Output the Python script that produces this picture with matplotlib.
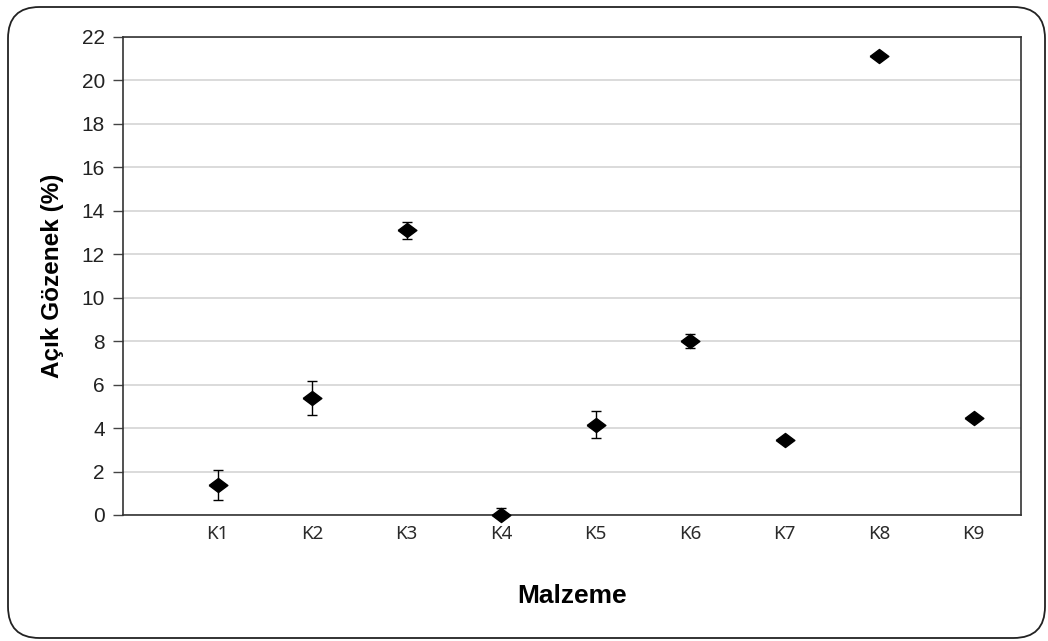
import matplotlib as mpl
import matplotlib.pyplot as plt
from matplotlib.patches import FancyBboxPatch

# open porosity per material, mean and std
materials = ['K1', 'K2', 'K3', 'K4', 'K5', 'K6', 'K7', 'K8', 'K9']
porosity = [1.38, 5.38, 13.1, 0.02, 4.15, 8.0, 3.45, 21.12, 4.45]
porosity_err = [0.7, 0.78, 0.4, 0.3, 0.62, 0.32, 0.1, 0.0, 0.0]
y_ticks = list(range(0, 24, 2))

fig = plt.figure(figsize=(10.48, 6.41), dpi=100)

# rounded frame around the whole chart
frame = FancyBboxPatch(
    (8 / 1048, 3 / 641), 1037 / 1048, 631 / 641,
    boxstyle='round,pad=0,rounding_size=0.03',
    transform=fig.transFigure, facecolor='none', edgecolor='#222222',
    linewidth=1.3, zorder=-1, mutation_aspect=1048 / 641)
fig.patches.append(frame)

ax = fig.add_axes([123 / 1048, 126 / 641, 898 / 1048, 478 / 641])
ax.set_facecolor('none')

x = list(range(1, len(materials) + 1))
diamond = [(-1, 0), (0, 0.75), (1, 0), (0, -0.75), (-1, 0)]
ax.errorbar(x, porosity, yerr=porosity_err, fmt='none', ecolor='black',
            elinewidth=1.0, capsize=3.3, capthick=1.0, zorder=3)
ax.plot(x, porosity, linestyle='none', marker=diamond, markersize=13.5,
        color='black', zorder=4, clip_on=False)

ax.set_xlim(0, 9.5)
ax.set_ylim(0, 22)
ax.set_yticks(y_ticks)
ax.set_yticklabels([str(v) for v in y_ticks], fontsize=15,
                   family='Liberation Sans', color='#222222')
ax.set_xticks(x)
ax.set_xticklabels(materials, fontsize=13.5, family='Noto Sans', color='#2a2a2a')
ax.tick_params(axis='x', length=0, pad=7)
ax.tick_params(axis='y', length=7, width=1, direction='out', pad=6, color='#444444')

ax.yaxis.grid(True, color='#d4d4d4', linewidth=1.2)
ax.set_axisbelow(True)
for side in ['left', 'right', 'top', 'bottom']:
    ax.spines[side].set_color('#333333')
    ax.spines[side].set_linewidth(1.2)

ax.set_ylabel('Açık Gözenek (%)', fontsize=17.5, fontweight='bold',
              family='Liberation Sans', labelpad=13)
ax.set_xlabel('Malzeme', fontsize=19, fontweight='bold',
              family='Liberation Sans', labelpad=30)

fig.savefig('out.png', dpi=100)
